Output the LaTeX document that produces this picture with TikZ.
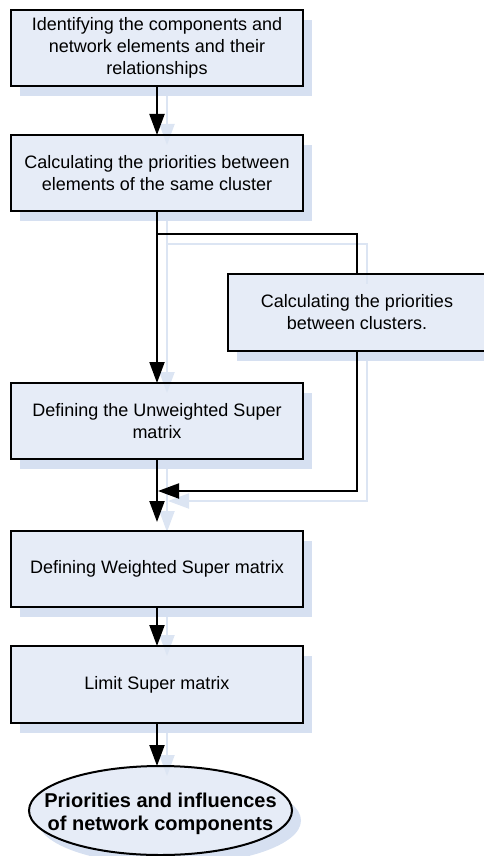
\documentclass[tikz,border=0pt]{standalone}
\usepackage{fontspec}
\setmainfont{Liberation Sans}
\usetikzlibrary{arrows.meta,shapes.geometric,shadows}
\definecolor{boxfill}{HTML}{E6ECF7}
\definecolor{shade}{HTML}{D6E0F1}
\definecolor{lineshade}{HTML}{DCE5F3}
\begin{document}
\begin{tikzpicture}[x=1pt,y=-1pt,
  flowtip/.style={-{Triangle[length=21pt,width=15pt]}},
  link/.style={line width=2pt,flowtip},
  linkshade/.style={line width=2pt,draw=lineshade,flowtip,color=lineshade},
  stepbox/.style={rectangle,fill=boxfill,draw=none,outer sep=0pt,inner sep=0pt,
    minimum width=292pt,minimum height=76pt,align=center,
    font=\fontsize{18}{22}\selectfont,
    drop shadow={shadow xshift=9pt,shadow yshift=-10pt,fill=shade,opacity=1}},
  endnode/.style={ellipse,fill=boxfill,draw=none,outer sep=0pt,
    inner xsep=-40pt,inner ysep=0pt,
    minimum width=263pt,minimum height=89pt,align=center,
    font=\fontsize{20}{23}\selectfont\bfseries,
    drop shadow={shadow xshift=9pt,shadow yshift=-10pt,fill=shade,opacity=1}},
  rim/.style={line width=2pt,draw=black}
]
\useasboundingbox (0,0) rectangle (483,856);

% process steps
\node[stepbox] (b1) at (157,48) {Identifying the components and\\network elements and their\\relationships};
\node[stepbox] (b2) at (157,173) {Calculating the priorities between\\elements of the same cluster};
\node[stepbox,minimum width=258pt,minimum height=77pt] (b4) at (357,312.5) {Calculating the priorities\\between clusters.};
\node[stepbox] (b3) at (157,421) {Defining the Unweighted Super\\matrix};
\node[stepbox] (b5) at (157,569) {Defining Weighted Super matrix};
\node[stepbox,minimum height=77pt] (b6) at (157,684.5) {Limit Super matrix};
\node[endnode] (res) at (160.5,810.5) {};
\node[font=\fontsize{20}{23}\selectfont\bfseries,align=center,inner sep=0pt] (restext) at (160.5,814) {Priorities and influences\\of network components};

% routing points
\coordinate (split) at (b2.south |- 0,234);
\coordinate (merge) at ([xshift=1pt]b3.south |- 0,491);
\coordinate (restop) at (b6.south |- res.north);

% pale shadows of the connectors
\draw[linkshade] ([shift={(10,10)}]b1.south) -- ([shift={(10,10)}]b2.north);
\draw[linkshade] ([shift={(10,10)}]b2.south) -- ([shift={(10,10)}]b3.north);
\draw[line width=2pt,lineshade] ([shift={(10,10)}]split) -| ([shift={(10,10)}]b4.north);
\draw[linkshade] ([shift={(10,10)}]b4.south) |- ([shift={(10,10)}]merge);
\draw[linkshade,shorten >=9pt] ([shift={(10,10)}]b3.south) -- ([shift={(10,10)}]b5.north);
\draw[linkshade] ([shift={(10,10)}]b5.south) -- ([shift={(10,10)}]b6.north);
\draw[linkshade] ([shift={(10,10)}]b6.south) -- ([shift={(10,10)}]restop);

% outlines of the steps
\foreach \n in {b1,b2,b3,b4,b5,b6}
  \draw[rim] (\n.north west) rectangle (\n.south east);
\draw[rim] (res.center) ellipse [x radius=131.5pt,y radius=44.5pt];

% connectors
\draw[link] (b1) -- (b2);
\draw[link] (b2) -- (b3);
\draw[line width=2pt] (split) -| (b4.north);
\draw[link] (b4.south) |- (merge);
\draw[link,shorten >=9pt] (b3) -- (b5);
\draw[link] (b5) -- (b6);
\draw[link] (b6.south) -- (restop);
\end{tikzpicture}
\end{document}
